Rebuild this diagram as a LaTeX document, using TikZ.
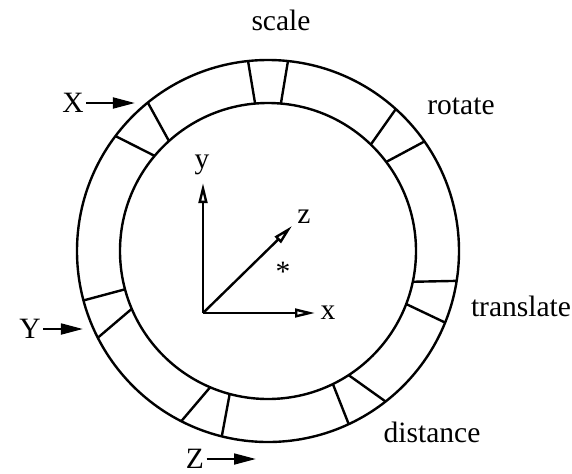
\documentclass[tikz,border=0pt]{standalone}
\usepackage{fontspec}
\setmainfont{Liberation Serif}
\usetikzlibrary{arrows.meta}

\begin{document}
\begin{tikzpicture}[x=1cm,y=1cm,line width=0.06cm,
    ring/.style={circle,draw,inner sep=0pt,outer sep=0pt},
    lbl/.style={font=\fontsize{21}{25}\selectfont,inner sep=1pt},
    feed/.style={-{Triangle[length=0.55cm,width=0.27cm]}},
    axis/.style={-{Triangle[open,length=0.5cm,width=0.22cm]}}]
    \useasboundingbox (-6.7,-5.55) rectangle (7.6,6.275);

    \node[ring,minimum size=9.55cm] (outer) at (0,0) {};
    \node[ring,minimum size=7.4cm] (inner) at (0,0) {};

    % slots on the ring
    \draw (outer.96) -- (inner.95);
    \draw (outer.84.3) -- (inner.85.8);
    \draw (outer.48) -- (inner.46.1);
    \draw (outer.35.4) -- (inner.37.6);
    \draw (outer.351.5) -- (inner.348.3);
    \draw (outer.338.2) -- (inner.339.9);
    \draw (outer.308.6) -- (inner.303.6);
    \draw (outer.295.6) -- (inner.296.1);
    \draw (outer.256.3) -- (inner.255.1);
    \draw (outer.243.2) -- (inner.247.9);
    \draw (outer.207.4) -- (inner.203.8);
    \draw (outer.195.7) -- (inner.195.7);
    \draw (outer.143.7) -- (inner.140.7);
    \draw (outer.129.3) -- (inner.132.6);

    \node[lbl] (scale) at (0.325,5.775) {scale};
    \node[lbl] (rotate) at (4.825,3.625) {rotate};
    \node[lbl] (translate) at (6.325,-1.375) {translate};
    \node[lbl] (distance) at (4.1,-4.525) {distance};

    % inputs
    \node[lbl] (X) at (-4.875,3.7) {X};
    \coordinate (Xtip) at (-3.325,3.7);
    \draw[feed] (X.east) -- (Xtip);
    \node[lbl] (Y) at (-5.95,-1.95) {Y};
    \coordinate (Ytip) at (-4.625,-1.95);
    \draw[feed] (Y.east) -- (Ytip);
    \node[lbl] (Z) at (-1.825,-5.2) {Z};
    \coordinate (Ztip) at (-0.3,-5.2);
    \draw[feed] (Z.east) -- (Ztip);

    % axes
    \coordinate (origin) at (-1.625,-1.55);
    \coordinate (ytip) at (-1.625,1.7);
    \coordinate (xtip) at (1.175,-1.55);
    \coordinate (ztip) at (0.6,0.625);
    \draw[axis] (origin) -- (ytip);
    \draw[axis] (origin) -- (xtip);
    \draw[axis] (origin) -- (ztip);
    \node[lbl] (ylab) at (-1.65,2.15) {y};
    \node[lbl] (xlab) at (1.5,-1.55) {x};
    \node[lbl] (zlab) at (0.9,0.85) {z};
    \node[lbl] (star) at (0.375,-0.525) {*};
\end{tikzpicture}
\end{document}
